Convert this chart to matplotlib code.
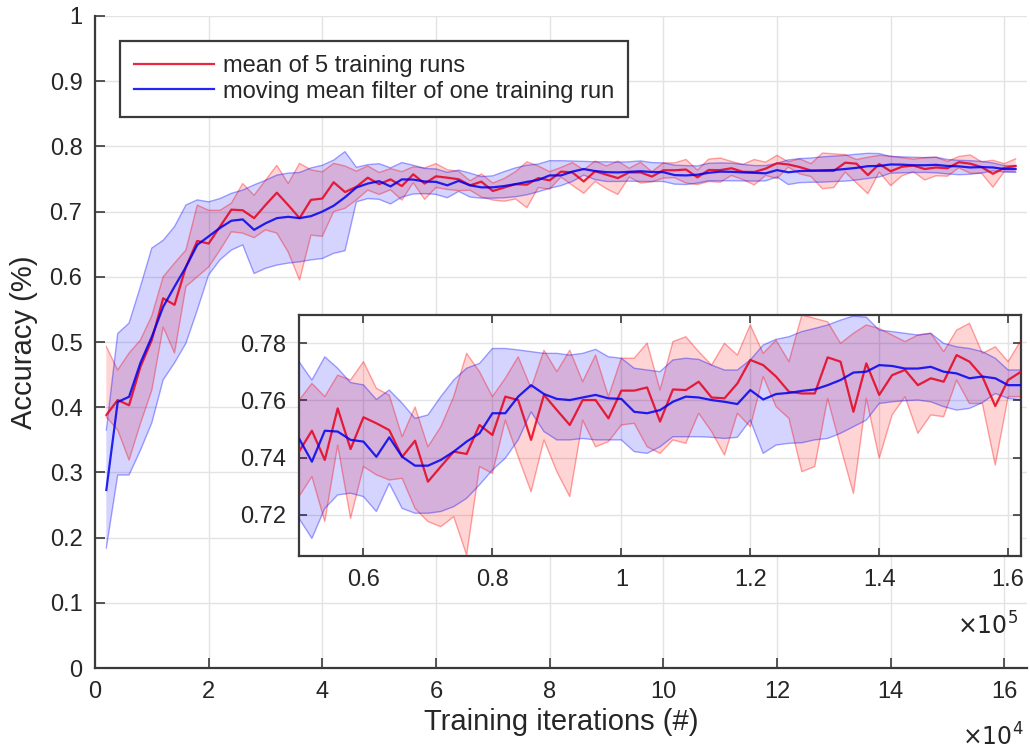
import numpy as np
import matplotlib
matplotlib.use("Agg")
import matplotlib.pyplot as plt
from matplotlib.ticker import FuncFormatter

plt.rcParams['font.family'] = ['Liberation Sans', 'DejaVu Sans']

# ---- data ---------------------------------------------------------------
iterations = np.arange(2000, 162001, 2000)

red_mean = [0.388, 0.411, 0.403, 0.462, 0.503, 0.567, 0.557, 0.615, 0.655, 0.651,
            0.677, 0.703, 0.702, 0.690, 0.710, 0.729, 0.710, 0.690, 0.718, 0.720,
            0.745, 0.730, 0.738, 0.752,
            0.7421, 0.7494, 0.7392, 0.7572, 0.7430, 0.7541, 0.7520, 0.7496, 0.7403, 0.7459,
            0.7316, 0.7369, 0.7421, 0.7413, 0.7514, 0.7479, 0.7613, 0.7601, 0.7462, 0.7619,
            0.7566, 0.7514, 0.7601, 0.7601, 0.7537, 0.7634, 0.7634, 0.7645, 0.7526, 0.7638,
            0.7636, 0.7665, 0.7610, 0.7607, 0.7659, 0.7741, 0.7723, 0.7683, 0.7630, 0.7624,
            0.7624, 0.7750, 0.7735, 0.7560, 0.7729, 0.7619, 0.7688, 0.7706, 0.7653, 0.7677,
            0.7665, 0.7758, 0.7735, 0.7683, 0.7580, 0.7671, 0.7700]

red_upper = [0.493, 0.457, 0.483, 0.503, 0.540, 0.600, 0.621, 0.641, 0.710, 0.702,
             0.702, 0.713, 0.743, 0.725, 0.748, 0.771, 0.743, 0.774, 0.764, 0.761,
             0.774, 0.770, 0.762, 0.770,
             0.7600, 0.7659, 0.7613, 0.7688, 0.7671, 0.7735, 0.7642, 0.7618, 0.7473, 0.7577,
             0.7438, 0.7508, 0.7613, 0.7764, 0.7700, 0.7613, 0.7677, 0.7752, 0.7642, 0.7775,
             0.7700, 0.7775, 0.7665, 0.7758, 0.7613, 0.7747, 0.7747, 0.7800, 0.7636, 0.7805,
             0.7822, 0.7770, 0.7723, 0.7799, 0.7758, 0.7863, 0.7764, 0.7810, 0.7735, 0.7898,
             0.7886, 0.7874, 0.7799, 0.7834, 0.7863, 0.7851, 0.7828, 0.7805, 0.7828, 0.7834,
             0.7770, 0.7845, 0.7869, 0.7764, 0.7787, 0.7735, 0.7810]

red_lower = [0.385, 0.365, 0.319, 0.375, 0.426, 0.523, 0.483, 0.585, 0.600, 0.615,
             0.641, 0.669, 0.667, 0.660, 0.672, 0.667, 0.638, 0.595, 0.664, 0.662,
             0.700, 0.705, 0.718, 0.733,
             0.7264, 0.7334, 0.7177, 0.7444, 0.7188, 0.7369, 0.7340, 0.7322, 0.7328, 0.7223,
             0.7177, 0.7159, 0.7194, 0.7060, 0.7369, 0.7345, 0.7531, 0.7403, 0.7281, 0.7462,
             0.7351, 0.7264, 0.7531, 0.7438, 0.7456, 0.7514, 0.7520, 0.7438, 0.7415, 0.7462,
             0.7450, 0.7555, 0.7491, 0.7409, 0.7555, 0.7508, 0.7683, 0.7578, 0.7537, 0.7351,
             0.7369, 0.7607, 0.7438, 0.7275, 0.7607, 0.7398, 0.7549, 0.7613, 0.7485, 0.7549,
             0.7543, 0.7671, 0.7589, 0.7589, 0.7374, 0.7613, 0.7613]

blue_mean = [0.273, 0.408, 0.416, 0.468, 0.508, 0.554, 0.585, 0.615, 0.649, 0.662,
             0.675, 0.686, 0.688, 0.672, 0.682, 0.690, 0.692, 0.690, 0.693, 0.700,
             0.709, 0.722, 0.737, 0.743,
             0.7467, 0.7386, 0.7494, 0.7491, 0.7462, 0.7456, 0.7403, 0.7471, 0.7403, 0.7372,
             0.7372, 0.7392, 0.7421, 0.7456, 0.7485, 0.7555, 0.7555, 0.7613, 0.7653, 0.7622,
             0.7605, 0.7601, 0.7610, 0.7619, 0.7607, 0.7605, 0.7560, 0.7555, 0.7566, 0.7595,
             0.7613, 0.7610, 0.7601, 0.7595, 0.7587, 0.7636, 0.7603, 0.7622, 0.7626, 0.7633,
             0.7638, 0.7653, 0.7671, 0.7697, 0.7700, 0.7723, 0.7720, 0.7711, 0.7711, 0.7717,
             0.7700, 0.7694, 0.7677, 0.7683, 0.7677, 0.7653, 0.7653]

blue_upper = [0.365, 0.513, 0.529, 0.585, 0.644, 0.656, 0.677, 0.710, 0.718, 0.715,
              0.720, 0.728, 0.733, 0.741, 0.748, 0.756, 0.759, 0.760, 0.767, 0.771,
              0.779, 0.792, 0.768, 0.772,
              0.7735, 0.7671, 0.7752, 0.7712, 0.7662, 0.7654, 0.7603, 0.7636, 0.7590, 0.7537,
              0.7549, 0.7613, 0.7671, 0.7712, 0.7729, 0.7781, 0.7781, 0.7776, 0.7770, 0.7764,
              0.7764, 0.7758, 0.7764, 0.7778, 0.7752, 0.7747, 0.7712, 0.7706, 0.7700, 0.7741,
              0.7747, 0.7743, 0.7723, 0.7706, 0.7706, 0.7741, 0.7793, 0.7813, 0.7822, 0.7840,
              0.7851, 0.7863, 0.7880, 0.7894, 0.7890, 0.7845, 0.7840, 0.7834, 0.7828, 0.7834,
              0.7799, 0.7787, 0.7781, 0.7770, 0.7747, 0.7706, 0.7706]

blue_lower = [0.184, 0.296, 0.296, 0.334, 0.376, 0.442, 0.468, 0.498, 0.549, 0.603,
              0.626, 0.641, 0.649, 0.605, 0.613, 0.618, 0.621, 0.623, 0.626, 0.628,
              0.636, 0.640, 0.715, 0.720,
              0.7188, 0.7118, 0.7223, 0.7270, 0.7276, 0.7264, 0.7212, 0.7310, 0.7223, 0.7206,
              0.7206, 0.7212, 0.7229, 0.7258, 0.7305, 0.7357, 0.7398, 0.7462, 0.7560, 0.7491,
              0.7462, 0.7462, 0.7467, 0.7462, 0.7462, 0.7462, 0.7421, 0.7415, 0.7438, 0.7473,
              0.7473, 0.7473, 0.7471, 0.7467, 0.7471, 0.7531, 0.7415, 0.7444, 0.7450, 0.7452,
              0.7462, 0.7467, 0.7485, 0.7508, 0.7531, 0.7589, 0.7595, 0.7599, 0.7601, 0.7595,
              0.7578, 0.7566, 0.7572, 0.7592, 0.7624, 0.7607, 0.7601]

legend_labels = ["mean of 5 training runs", "moving mean filter of one training run"]
main_yticks = [0, 0.1, 0.2, 0.3, 0.4, 0.5, 0.6, 0.7, 0.8, 0.9, 1]
main_xticks = [0, 20000, 40000, 60000, 80000, 100000, 120000, 140000, 160000]
inset_xticks = [60000, 80000, 100000, 120000, 140000, 160000]
inset_yticks = [0.72, 0.74, 0.76, 0.78]

# ---- style --------------------------------------------------------------
TXT = '#262626'
SPINE = '#3a3a3a'
GRID = '#e3e3e3'
RED = '#ff0000'
BLUE = '#0000ff'

fig = plt.figure(figsize=(10.30, 7.51), dpi=100)
ax = fig.add_axes([0.0922, 0.1105, 0.9049, 0.8682])
axin = fig.add_axes([0.2903, 0.2590, 0.7010, 0.3216])


def draw(a):
    a.fill_between(iterations, red_lower, red_upper, facecolor=RED, alpha=0.17,
                   edgecolor='none', zorder=2)
    a.plot(iterations, red_upper, color=RED, alpha=0.35, lw=1.0, zorder=3)
    a.plot(iterations, red_lower, color=RED, alpha=0.35, lw=1.0, zorder=3)
    a.fill_between(iterations, blue_lower, blue_upper, facecolor=BLUE, alpha=0.17,
                   edgecolor='none', zorder=2)
    a.plot(iterations, blue_upper, color=BLUE, alpha=0.35, lw=1.0, zorder=3)
    a.plot(iterations, blue_lower, color=BLUE, alpha=0.35, lw=1.0, zorder=3)
    l1, = a.plot(iterations, red_mean, color='#e8001c', alpha=0.85, lw=1.6, zorder=4)
    l2, = a.plot(iterations, blue_mean, color='#0000f0', alpha=0.85, lw=1.6, zorder=5)
    return l1, l2


l1, l2 = draw(ax)
draw(axin)

# main axes styling
ax.set_xlim(0, 164000)
ax.set_ylim(0, 1)
ax.set_xticks(main_xticks)
ax.set_yticks(main_yticks)
ax.xaxis.set_major_formatter(FuncFormatter(lambda v, p: f"{v/1e4:g}"))
ax.yaxis.set_major_formatter(FuncFormatter(lambda v, p: f"{v:g}"))
ax.grid(True, color=GRID, lw=1.0, zorder=0)
ax.set_axisbelow(True)
for s in ['top', 'right']:
    ax.spines[s].set_visible(False)
for s in ['left', 'bottom']:
    ax.spines[s].set_color(SPINE)
    ax.spines[s].set_linewidth(1.6)
ax.tick_params(direction='in', length=7, width=1.2, color=SPINE, labelcolor=TXT,
               labelsize=17, pad=9)
ax.set_xlabel("Training iterations (#)", fontsize=21, color=TXT, labelpad=4)
ax.set_ylabel("Accuracy (%)", fontsize=21, color=TXT, labelpad=8)
fig.text(0.964, 0.019, r"$\times10^4$", fontsize=17, color=TXT, ha='center', va='center',
         math_fontfamily='dejavusans')

# inset styling
axin.set_xlim(50000, 162000)
axin.set_ylim(0.7055, 0.7898)
axin.set_xticks(inset_xticks)
axin.set_yticks(inset_yticks)
axin.xaxis.set_major_formatter(FuncFormatter(lambda v, p: f"{v/1e5:g}"))
axin.yaxis.set_major_formatter(FuncFormatter(lambda v, p: f"{v:.2f}"))
axin.grid(True, color=GRID, lw=1.0, zorder=0)
axin.set_axisbelow(True)
axin.set_facecolor('white')
for s in axin.spines.values():
    s.set_color(SPINE)
    s.set_linewidth(1.6)
axin.tick_params(direction='in', length=6, width=1.2, color=SPINE, labelcolor=TXT,
                 labelsize=17, pad=9, top=True, right=True)
fig.text(0.959, 0.166, r"$\times10^5$", fontsize=17, color=TXT, ha='center', va='center',
         math_fontfamily='dejavusans')

leg = ax.legend([l1, l2], legend_labels, loc='upper left',
                bbox_to_anchor=(120 / 1030, 1 - 41 / 751), bbox_transform=fig.transFigure,
                fontsize=17, frameon=True, fancybox=False, handlelength=3.4,
                handletextpad=0.35, labelspacing=0.15, borderpad=0.6,
                borderaxespad=0)
leg.get_frame().set_edgecolor('#3a3a3a')
leg.get_frame().set_linewidth(1.6)
leg.get_frame().set_alpha(1)
for t in leg.get_texts():
    t.set_color(TXT)

fig.savefig("out.png", dpi=100)
